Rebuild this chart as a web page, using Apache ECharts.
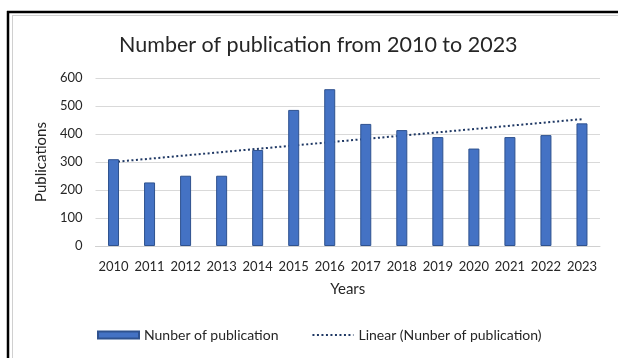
<!DOCTYPE html>
<html>
<head>
<meta charset="utf-8">
<script src="https://cdn.jsdelivr.net/npm/echarts@6/dist/echarts.min.js"></script>
<style>
  html, body { margin: 0; padding: 0; background: #fff; }
  #chart { width: 618px; height: 358px; }
</style>
</head>
<body>
<div id="chart"></div>
<script>
  // data
  var years = ['2010', '2011', '2012', '2013', '2014', '2015', '2016', '2017', '2018', '2019', '2020', '2021', '2022', '2023'];
  var publications = [310, 227, 251, 251, 343, 486, 560, 436, 414, 389, 348, 389, 396, 438];
  // linear trend, end points as drawn
  var trendYears = ['2010', '2023'];
  var trendValues = [300, 453];

  var font = 'Lato';
  var chart = echarts.init(document.getElementById('chart'));

  var option = {
    animation: false,
    textStyle: { fontFamily: font },
    title: {
      text: 'Number of publication from 2010 to 2023',
      left: 114,
      top: 29,
      textStyle: { fontFamily: font, fontSize: 21.5, fontWeight: 'normal', color: '#262626' }
    },
    graphic: [
      { type: 'line', shape: { x1: 7, y1: 12, x2: 618, y2: 12 }, style: { stroke: '#000', lineWidth: 2.5 } },
      { type: 'line', shape: { x1: 8, y1: 11, x2: 8, y2: 358 }, style: { stroke: '#000', lineWidth: 2.5 } },
      { type: 'line', shape: { x1: 12, y1: 15.5, x2: 618, y2: 15.5 }, style: { stroke: '#d0d0d0', lineWidth: 1 } },
      { type: 'line', shape: { x1: 12.5, y1: 15, x2: 12.5, y2: 358 }, style: { stroke: '#d0d0d0', lineWidth: 1 } }
    ],
    legend: {
      left: 97,
      top: 328,
      padding: 0,
      itemWidth: 41,
      itemHeight: 7,
      itemGap: 33,
      textStyle: { fontFamily: font, fontSize: 14, color: '#262626' },
      data: [
        { name: 'Nunber of publication', icon: 'rect' },
        { name: 'Linear (Nunber of publication)', itemStyle: { opacity: 0 } }
      ]
    },
    grid: { left: 95.5, right: 18, top: 78, bottom: 112 },
    xAxis: {
      type: 'category',
      data: years,
      name: 'Years',
      nameLocation: 'middle',
      nameGap: 36,
      nameTextStyle: { fontFamily: font, fontSize: 15, color: '#262626' },
      axisTick: { show: false },
      axisLine: { lineStyle: { color: '#d0d0d0' } },
      axisLabel: { margin: 14, fontSize: 13, color: '#262626', interval: 0 }
    },
    yAxis: {
      type: 'value',
      min: 0,
      max: 600,
      interval: 100,
      name: 'Publications',
      nameLocation: 'middle',
      nameGap: 42,
      nameTextStyle: { fontFamily: font, fontSize: 15, color: '#262626' },
      axisLabel: { margin: 13, fontSize: 13, color: '#262626' },
      splitLine: { lineStyle: { color: '#d9d9d9' } }
    },
    series: [
      {
        name: 'Nunber of publication',
        type: 'bar',
        data: publications,
        barWidth: 11,
        z: 3,
        itemStyle: { color: '#4472c4', borderColor: '#2f528f', borderWidth: 1 }
      },
      {
        name: 'Linear (Nunber of publication)',
        type: 'line',
        data: trendYears.map(function (y, i) { return [y, trendValues[i]]; }),
        symbol: 'none',
        z: 2,
        itemStyle: { color: '#1f3864' },
        lineStyle: { color: '#1f3864', width: 2, type: [2, 2.5] }
      }
    ]
  };

  chart.setOption(option);
</script>
</body>
</html>
